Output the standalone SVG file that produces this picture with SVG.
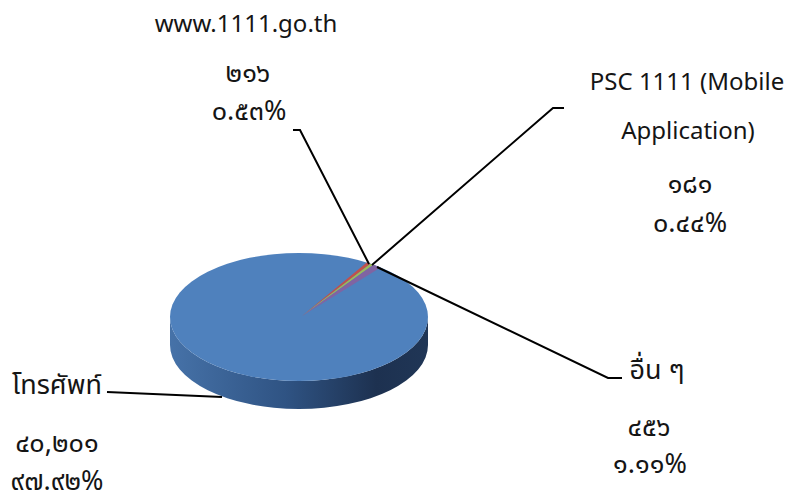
<svg xmlns="http://www.w3.org/2000/svg" width="795" height="497" viewBox="0 0 795 497">
<style>
text{font-family:"Noto Sans","Noto Sans Thai",Tahoma,sans-serif;font-size:24px;fill:#151515;text-anchor:middle}
.th{font-size:27px}
.dg{font-size:27px}
.ld{fill:none;stroke:#000;stroke-width:2}
</style>
<defs>
<linearGradient id="side" x1="0" y1="0" x2="1" y2="0">
<stop offset="0" stop-color="#4672a8"/>
<stop offset="0.45" stop-color="#2f5383"/>
<stop offset="0.8" stop-color="#1d3150"/>
<stop offset="1" stop-color="#203656"/>
</linearGradient>
</defs>
<rect width="795" height="497" fill="#fff"/>
<g id="pie">
<path d="M170,317 L170,345 A129 64 0 0 0 428,345 L428,317 A129 64 0 0 1 170,317 Z" fill="url(#side)"/>
<ellipse cx="299" cy="317" rx="129" ry="64" fill="#4f81bd"/>
<path d="M302,316 L366.8,262.5 A129 64 0 0 1 370.4,263.7 Z" fill="#c0504d"/>
<path d="M302,316 L370.4,263.7 A129 64 0 0 1 373.4,264.7 Z" fill="#9bbb59"/>
<path d="M302,316 L373.4,264.7 A129 64 0 0 1 380.5,267.4 Z" fill="#8064a2"/>
</g>
<g id="connectors">
<polyline class="ld" points="293,130 300,130 369,264"/>
<polyline class="ld" points="564,108 553,108 372,265"/>
<polyline class="ld" points="622,378 608,378 377,267"/>
<polyline class="ld" points="107,392 222,397"/>
</g>
<g id="label-web">
<text x="246" y="32">www.1111.go.th</text>
<text class="dg" x="248" y="82">๒๑๖</text>
<text class="dg" x="249" y="120">๐.๕๓%</text>
</g>
<g id="label-psc">
<text x="687" y="90">PSC 1111 (Mobile</text>
<text x="688" y="139">Application)</text>
<text class="dg" x="690" y="193">๑๘๑</text>
<text class="dg" x="690" y="232">๐.๔๔%</text>
</g>
<g id="label-other">
<text class="th" x="657" y="379">อื่น ๆ</text>
<text class="dg" x="649" y="436">๔๕๖</text>
<text class="dg" x="650" y="473">๑.๑๑%</text>
</g>
<g id="label-phone">
<text class="th" x="57" y="394">โทรศัพท์</text>
<text class="dg" x="57" y="452">๔๐,๒๐๑</text>
<text class="dg" x="57" y="490">๙๗.๙๒%</text>
</g>
</svg>
